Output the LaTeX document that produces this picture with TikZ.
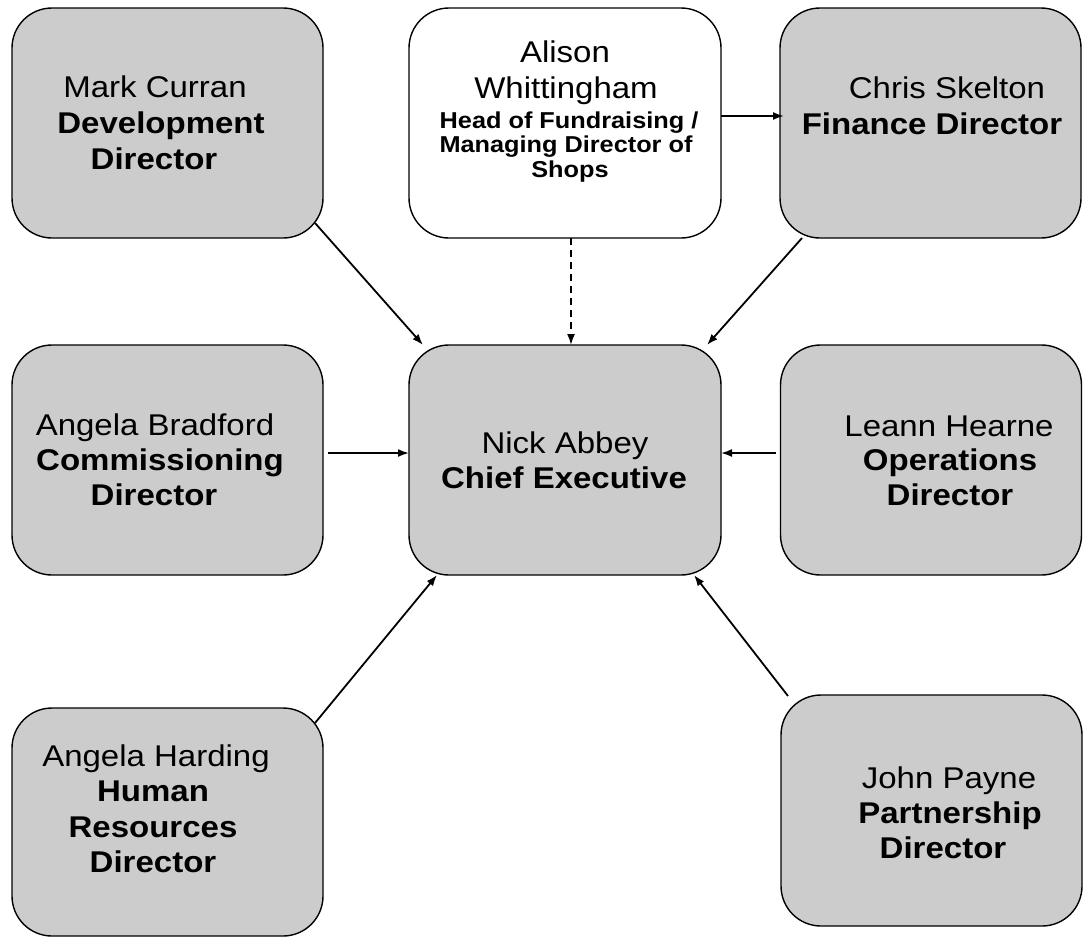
\documentclass[tikz,border=0pt]{standalone}
\usepackage{fontspec}
\setmainfont{Liberation Sans}[FakeStretch=1.1]
\usetikzlibrary{calc,arrows.meta}
\begin{document}
\begin{tikzpicture}[x=1pt,y=-1pt,
  box/.style={draw=black,line width=1.4pt,fill=boxgray,rounded corners=40pt,
              minimum width=#1,inner sep=0pt,outer sep=0pt},
  wbox/.style={box=#1,fill=white},
  nm/.style={anchor=base,inner sep=0pt,font=\fontsize{30}{36}\selectfont},
  tt/.style={anchor=base,inner sep=0pt,font=\fontsize{30}{36}\selectfont\bfseries},
  st/.style={anchor=base,inner sep=0pt,font=\fontsize{23}{24}\selectfont\bfseries},
  link/.style={draw=black,line width=1.8pt,-{Latex[length=11pt,width=8pt]}},
  dlink/.style={link,dash pattern=on 7pt off 5pt}]
\definecolor{boxgray}{RGB}{204,204,204}
\useasboundingbox (0,0) rectangle (1083,937);
% boxes
\node[box=311pt,minimum height=230pt] (mark)  at (167.5,123) {};
\node[wbox=312pt,minimum height=230pt] (alison) at (565,123) {};
\node[box=301pt,minimum height=230pt] (chris) at (930.5,123) {};
\node[box=311pt,minimum height=230pt] (brad)  at (167.5,460) {};
\node[box=312pt,minimum height=230pt] (nick)  at (565,460) {};
\node[box=301pt,minimum height=230pt] (leann) at (931,460) {};
\node[box=311pt,minimum height=228pt] (hard)  at (167.5,822) {};
\node[box=301pt,minimum height=231pt] (john)  at (931.5,810.5) {};
% texts
\node[nm] (t1a) at (155,97)  {Mark Curran};
\node[tt] (t1b) at (161,133) {Development};
\node[tt] (t1c) at (154,169) {Director};
\node[nm] (t2a) at (565,62)  {Alison};
\node[nm] (t2b) at (566,98)  {Whittingham};
\node[st] (t2c) at (569,128) {Head of Fundraising /};
\node[st] (t2d) at (566,152) {Managing Director of};
\node[st] (t2e) at (570,177) {Shops};
\node[nm] (t3a) at (947,98)  {Chris Skelton};
\node[tt] (t3b) at (932,134) {Finance Director};
\node[nm] (t4a) at (155,435) {Angela Bradford};
\node[tt] (t4b) at (160,470) {Commissioning};
\node[tt] (t4c) at (154,505) {Director};
\node[nm] (t5a) at (565,453) {Nick Abbey};
\node[tt] (t5b) at (564,488) {Chief Executive};
\node[nm] (t6a) at (949,436) {Leann Hearne};
\node[tt] (t6b) at (950,470) {Operations};
\node[tt] (t6c) at (950,505) {Director};
\node[nm] (t7a) at (156,766) {Angela Harding};
\node[tt] (t7b) at (153,801) {Human};
\node[tt] (t7c) at (153,837) {Resources};
\node[tt] (t7d) at (153,872) {Director};
\node[nm] (t8a) at (949,788) {John Payne};
\node[tt] (t8b) at (950,823) {Partnership};
\node[tt] (t8c) at (943,858) {Director};
% connectors
\draw[link] ($(alison.east)+(0,-7)$) -- ($(chris.west)+(4,-7)$);
\draw[dlink] ($(alison.south)+(6,0)$) -- ($(nick.north)+(6,0)$);
\draw[link] ($(mark.south east)+(-8,-15)$) -- ($(nick.north west)+(14,0)$);
\draw[link] ($(chris.south west)+(22,0)$) -- ($(nick.north east)+(-14,0)$);
\draw[link] ($(brad.east)+(5,-7)$) -- ($(nick.west)+(0,-7)$);
\draw[link] ($(leann.west)+(-5,-7)$) -- ($(nick.east)+(0,-7)$);
\draw[link] ($(hard.north east)+(-8,15)$) -- ($(nick.south west)+(28,0)$);
\draw[link] ($(john.north west)+(7,1)$) -- ($(nick.south east)+(-27,0)$);
\end{tikzpicture}
\end{document}
